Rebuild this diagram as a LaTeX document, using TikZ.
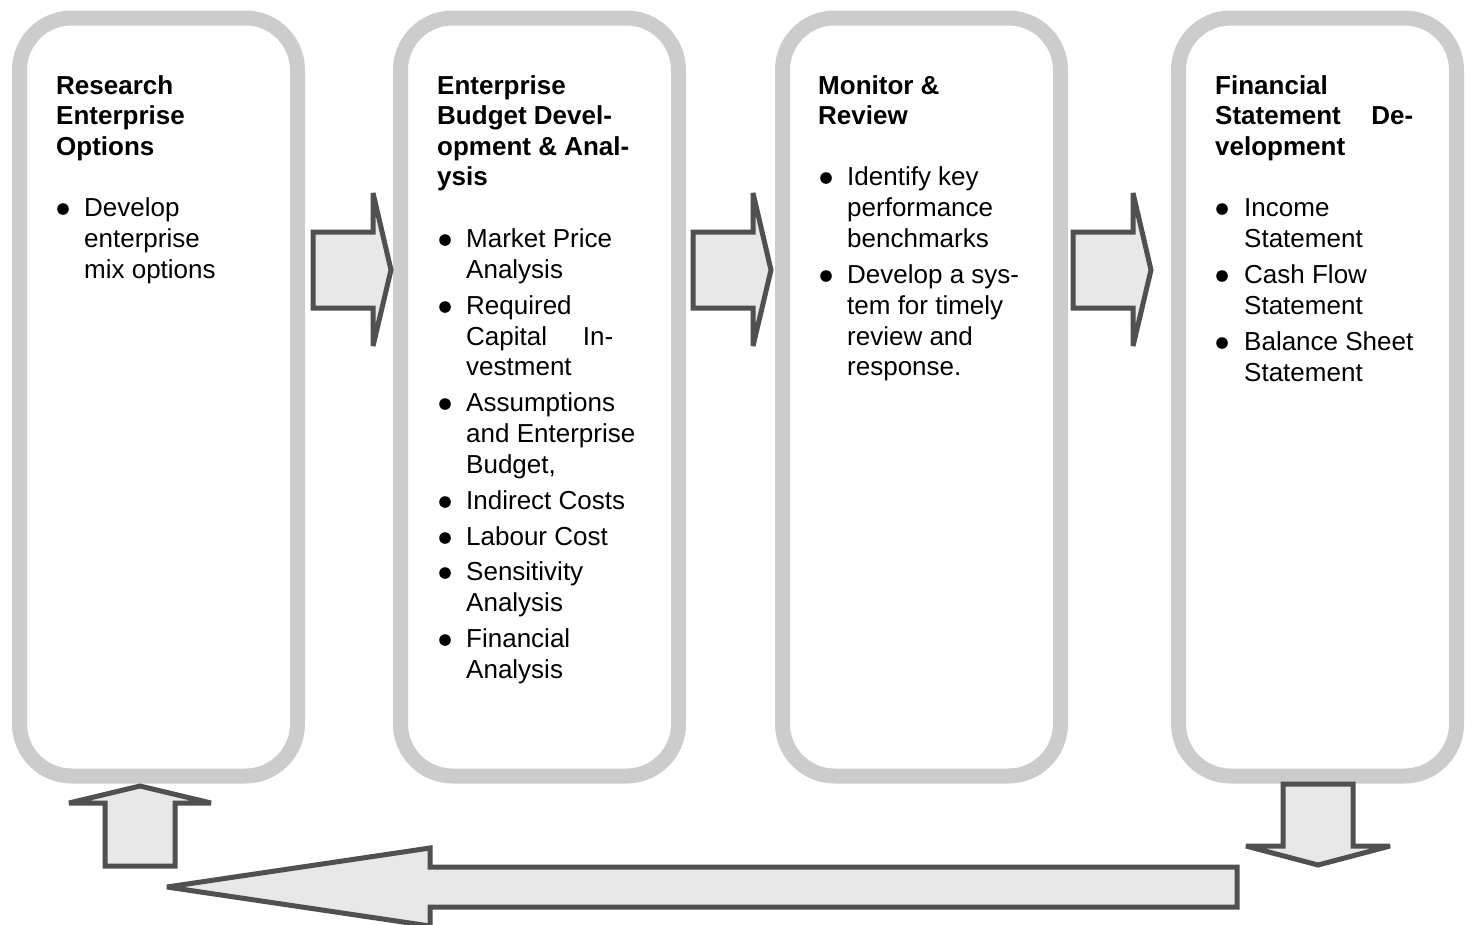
\documentclass[tikz,border=0pt]{standalone}
\usepackage{fontspec}
\setmainfont{Liberation Sans}
\definecolor{boxgray}{HTML}{CCCCCC}
\definecolor{arrdark}{HTML}{505050}
\definecolor{arrfill}{HTML}{E8E8E8}
\tikzset{
  stagebox/.style={draw=boxgray, line width=15pt, rounded corners=52pt, minimum width=278pt, minimum height=758pt, inner sep=0pt, fill=white},
  ttl/.style={anchor=base west, inner sep=0pt, font=\fontsize{26}{31}\selectfont\bfseries},
  txt/.style={anchor=base west, inner sep=0pt, font=\fontsize{26}{31}\selectfont},
  blockarrow/.style={draw=arrdark, fill=arrfill, line width=5pt, miter limit=4},
  pics/rarrow/.style={code={
    \draw[blockarrow] (0,-38) -- (60,-38) -- (60,-77) -- (78,0) -- (60,76) -- (60,38) -- (0,38) -- cycle;
  }}
}
\begin{document}
\begin{tikzpicture}[x=1pt, y=-1pt]
\useasboundingbox (0,0) rectangle (1471,924);
% stage boxes
\node[stagebox] (b1) at (158.5,397) {};
\node[stagebox] (b2) at (539.5,397) {};
\node[stagebox] (b3) at (921.5,397) {};
\node[stagebox] (b4) at (1317.5,397) {};
% right arrows between boxes
\pic at (313,270) {rarrow};
\pic at (693,270) {rarrow};
\pic at (1073,270) {rarrow};
% down arrow from box 4
\draw[blockarrow] (1283,784) -- (1353,784) -- (1353,846) -- (1390,846) -- (1318,865) -- (1246,846) -- (1283,846) -- cycle;
% long return arrow
\draw[blockarrow] (1237,867) -- (430,867) -- (430,848) -- (167,887) -- (430,926) -- (430,907) -- (1237,907) -- cycle;
% up arrow to box 1
\draw[blockarrow] (105,866) -- (105,803) -- (69,803) -- (140,786) -- (211,803) -- (175,803) -- (175,866) -- cycle;
% Box 1 text
\foreach \t [count=\i] in {Research, Enterprise, Options}
  \node[ttl] (t1-\i) at (56,{94+30.5*(\i-1)}) {\t};
\fill (63,209) circle (5.8);
\foreach \y/\t [count=\i] in {216/Develop, 247/enterprise, 278/mix options}
  \node[txt] (l1-\i) at (84,\y) {\t};
% Box 2 text
\foreach \t [count=\i] in {Enterprise, Budget Devel-, opment \& Anal-, ysis}
  \node[ttl] (t2-\i) at (437,{94+30.5*(\i-1)}) {\t};
\foreach \y in {240,307,404,502,538,573,640}
  \fill (445,\y) circle (5.8);
\foreach \y/\t [count=\i] in {247/Market Price, 278/Analysis, 314/Required, 345/{\makebox[147pt][l]{Capital\hfill In-}}, 375/vestment, 411/Assumptions, 442/and Enterprise, 473/{Budget,}, 509/Indirect Costs, 545/Labour Cost, 580/Sensitivity, 611/Analysis, 647/Financial, 678/Analysis}
  \node[txt] (l2-\i) at (466,\y) {\t};
% Box 3 text
\foreach \t [count=\i] in {Monitor \&, Review}
  \node[ttl] (t3-\i) at (818,{94+30.5*(\i-1)}) {\t};
\foreach \y in {178,276}
  \fill (826,\y) circle (5.8);
\foreach \y/\t [count=\i] in {185/Identify key, 216/performance, 247/benchmarks, 283/Develop a sys-, 314/tem for timely, 345/review and, 375/response.}
  \node[txt] (l3-\i) at (847,\y) {\t};
% Box 4 text
\foreach \t [count=\i] in {Financial, {\makebox[198pt][l]{Statement\hfill De-}}, velopment}
  \node[ttl] (t4-\i) at (1215,{94+30.5*(\i-1)}) {\t};
\foreach \y in {209,276,343}
  \fill (1222,\y) circle (5.8);
\foreach \y/\t [count=\i] in {216/Income, 247/Statement, 283/Cash Flow, 314/Statement, 350/Balance Sheet, 381/Statement}
  \node[txt] (l4-\i) at (1244,\y) {\t};
\end{tikzpicture}
\end{document}
